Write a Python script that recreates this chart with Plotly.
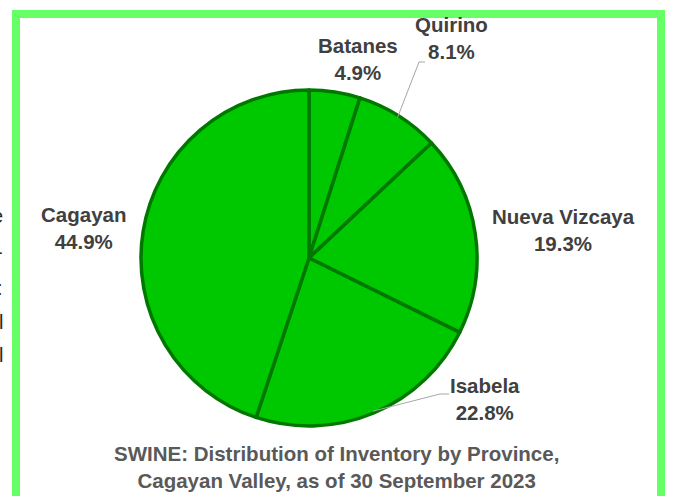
import math
import plotly.graph_objects as go

# data
provinces = ["Batanes", "Quirino", "Nueva Vizcaya", "Isabela", "Cagayan"]
shares = [4.9, 8.1, 19.3, 22.8, 44.9]
title_lines = ["SWINE: Distribution of Inventory by Province,",
               "Cagayan Valley, as of 30 September 2023"]

W, H = 673, 496
# pie placement in pixels (center and radius)
cx, cy, rad = 309, 258, 168


def px(x):
    return x / W


def py(y):
    return 1 - y / H


fig = go.Figure()
fig.add_trace(go.Pie(
    labels=provinces,
    values=shares,
    sort=False,
    direction="clockwise",
    rotation=0,
    textinfo="none",
    hoverinfo="label+percent",
    marker=dict(colors=["#00C800"] * len(shares),
                line=dict(color="#007800", width=3.5)),
    domain=dict(x=[px(cx - rad), px(cx + rad)], y=[py(cy + rad), py(cy - rad)]),
    showlegend=False,
))

# label positions (text centers) in pixels
label_pos = {
    "Batanes": (358, 59),
    "Quirino": (452, 38),
    "Nueva Vizcaya": (563, 230),
    "Isabela": (485, 399),
    "Cagayan": (83, 228),
}
# leader line elbows: (elbow point, end point next to the label)
elbows = {"Quirino": ((419, 62), (425, 62)),
          "Isabela": ((440, 394), (449, 394))}

annotations = []
shapes = []
total = sum(shares)
cum = 0
for name, v in zip(provinces, shares):
    mid = (cum + v / 2) / total * 2 * math.pi
    cum += v
    lx, ly = label_pos[name]
    annotations.append(dict(
        text=f"<b>{name}</b><br><b>{v:.1f}%</b>",
        x=px(lx), y=py(ly), xref="paper", yref="paper",
        xanchor="center", yanchor="middle",
        showarrow=False, align="center",
        font=dict(size=20.5, color="#404040", family="Liberation Sans, Arial"),
    ))
    if name in elbows:
        tx = cx + (rad - 2) * math.sin(mid)
        ty = cy - (rad - 2) * math.cos(mid)
        (ex, ey), (fx, fy) = elbows[name]
        shapes.append(dict(
            type="path", xref="paper", yref="paper",
            path=f"M {px(tx)} {py(ty)} L {px(ex)} {py(ey)} L {px(fx)} {py(fy)}",
            line=dict(color="#A6A6A6", width=1),
        ))

# title
annotations.append(dict(
    text="<b>" + "</b><br><b>".join(title_lines) + "</b>",
    x=px(336), y=py(467), xref="paper", yref="paper",
    xanchor="center", yanchor="middle",
    showarrow=False, align="center",
    font=dict(size=20.5, color="#595959", family="Liberation Sans, Arial"),
))

# cut-off text from the neighbouring slide at the left edge
for ch, yy in [("e", 216), ("-", 252), (":", 288), ("l", 322), ("l", 355)]:
    annotations.append(dict(
        text=ch, x=px(5), y=py(yy), xref="paper", yref="paper",
        xanchor="right", yanchor="middle", showarrow=False,
        font=dict(size=20, color="#262626", family="Liberation Sans, Arial"),
    ))

# light green frame
shapes.append(dict(
    type="rect", xref="paper", yref="paper",
    x0=px(16), x1=px(661), y0=py(520), y1=py(14),
    line=dict(color="#66FF66", width=8), fillcolor="rgba(0,0,0,0)",
    layer="below",
))

fig.update_layout(
    width=W, height=H,
    margin=dict(l=0, r=0, t=0, b=0),
    paper_bgcolor="white",
    plot_bgcolor="white",
    annotations=annotations,
    shapes=shapes,
)

fig.write_html("out.html", config={"displayModeBar": False},
               post_script="document.body.style.margin='0';")
